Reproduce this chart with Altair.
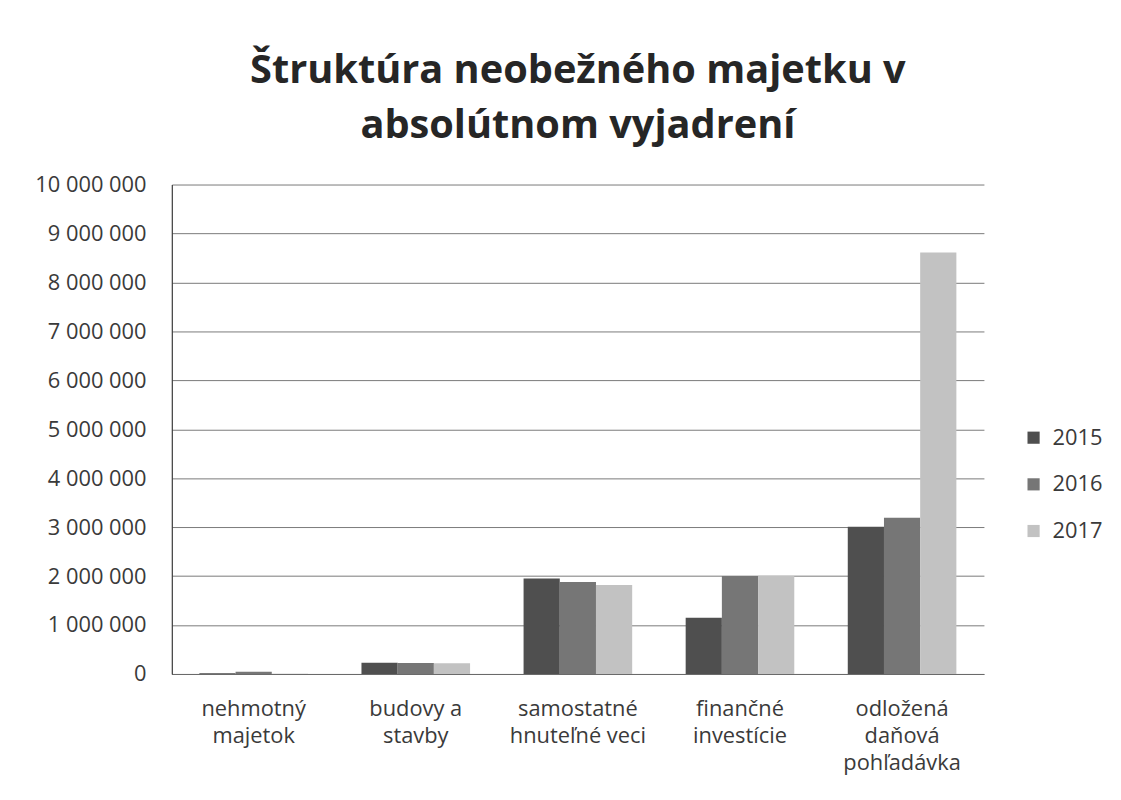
import altair as alt
import pandas as pd

categories = ["nehmotný\nmajetok", "budovy a\nstavby", "samostatné\nhnuteľné veci",
              "finančné\ninvestície", "odložená\ndaňová\npohľadávka"]
years = ["2015", "2016", "2017"]
v2015 = [15000, 230000, 1950000, 1150000, 3010000]
v2016 = [45000, 225000, 1880000, 2000000, 3190000]
v2017 = [5000, 220000, 1820000, 2000000, 8610000]
colors = ["#4f4f4f", "#767676", "#c2c2c2"]

rows = []
for i, c in enumerate(categories):
    for y, vals in zip(years, [v2015, v2016, v2017]):
        rows.append({"kategoria": c, "rok": y, "hodnota": vals[i]})
df = pd.DataFrame(rows)

FONT = "Open Sans"

chart = alt.Chart(df).mark_bar().encode(
    x=alt.X("kategoria:N", sort=categories, title=None,
            scale=alt.Scale(paddingInner=0.33, paddingOuter=0.17),
            axis=alt.Axis(labelAngle=0, labelExpr="split(datum.label, '\\n')",
                          labelFontSize=22, labelFont=FONT, labelColor="#3a3a3a",
                          labelPadding=25, labelLineHeight=27, ticks=False,
                          domain=True, domainColor="#6a6a6a", labelBaseline="top")),
    xOffset=alt.XOffset("rok:N", sort=years),
    y=alt.Y("hodnota:Q", title=None,
            scale=alt.Scale(domain=[0, 10000000], nice=False),
            axis=alt.Axis(values=list(range(0, 10000001, 1000000)),
                          labelExpr="replace(format(datum.value, ',d'), regexp(',', 'g'), ' ')",
                          labelFontSize=22, labelFont=FONT, labelColor="#3a3a3a",
                          labelPadding=26, ticks=False,
                          domain=True, domainWidth=1.2,
                          domainColor="#3a3a3a", gridColor="#7a7a7a", gridWidth=1)),
    color=alt.Color("rok:N", sort=years,
                    scale=alt.Scale(domain=years, range=colors),
                    legend=alt.Legend(title=None, orient="none", legendX=857, legendY=244,
                                      symbolType="square", symbolSize=150,
                                      symbolStrokeWidth=0,
                                      labelFontSize=22, labelFont=FONT, labelColor="#3a3a3a",
                                      rowPadding=25, labelOffset=8)),
).properties(
    width=818, height=493,
    title=alt.TitleParams(["Štruktúra neobežného majetku v", "absolútnom vyjadrení"],
                          fontSize=40, font=FONT, fontWeight="bold", color="#262626",
                          lineHeight=55, offset=28, anchor="middle"),
    padding={"left": 26, "top": 41, "right": 10, "bottom": 5},
).configure_view(stroke=None)

chart.save("out.html", embed_options={"renderer": "svg", "actions": False})
